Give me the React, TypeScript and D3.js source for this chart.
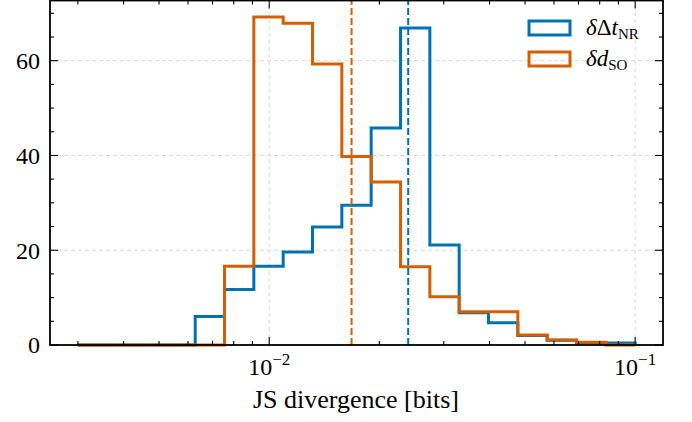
import React, { useEffect } from 'react';
import * as d3 from 'd3';

// log-spaced bin edges (0.003 .. 0.1, 19 bins)
const binEdges = [
  0.003, 0.003608, 0.00434, 0.005219, 0.006278, 0.007549, 0.009078, 0.010919,
  0.013133, 0.015793, 0.018995, 0.022851, 0.027479, 0.033045, 0.039747,
  0.047797, 0.057478, 0.069118, 0.083157, 0.1,
];

const countsNR = [0, 0, 0, 0, 6.0, 11.7, 16.6, 19.6, 24.9, 29.5, 45.8, 66.9, 21.1, 6.8, 4.7, 2.0, 1.0, 0.5, 0.4];
const countsSO = [0, 0, 0, 0, 0, 16.6, 69.2, 67.9, 59.3, 39.8, 34.4, 16.5, 10.2, 7.0, 7.0, 2.1, 1.05, 0.6, 0];

const meanNR = 0.02398;
const meanSO = 0.01679;

const yGridTicks = [20, 40, 60];
const yLabelTicks = [0, 20, 40, 60];
const xMajorTicks = [0.01, 0.1];
const xMajorLabels = ['−2', '−1'];

const BLUE = '#0072B2';
const ORANGE = '#D55E00';
const FONT = 'Liberation Serif';

const W = 692;
const H = 422;
const M = { left: 50, right: 29, top: 0.5, bottom: 77 };

export default function App() {
  useEffect(() => {
    document.body.style.margin = '0';
  }, []);

  const x = d3.scaleLog().domain([Math.pow(10, -2.599), Math.pow(10, -0.9239)]).range([M.left, W - M.right]);
  const y = d3.scaleLinear().domain([0, 72.7]).range([H - M.bottom, M.top]);

  const x0 = M.left;
  const x1 = W - M.right;
  const y0 = H - M.bottom;
  const y1 = M.top;

  const stepPath = (counts: number[]) => {
    const pts: [number, number][] = [[binEdges[0], 0]];
    counts.forEach((c, i) => {
      pts.push([binEdges[i], c]);
      pts.push([binEdges[i + 1], c]);
    });
    pts.push([binEdges[binEdges.length - 1], 0]);
    return d3.line<[number, number]>().x((d) => x(d[0])).y((d) => y(d[1]))(pts) || '';
  };

  const xTicks = x.ticks();
  const isMajor = (t: number) => Math.abs(Math.log10(t) - Math.round(Math.log10(t))) < 1e-6;
  const yTicks = d3.range(0, 73, 5);
  const txt = { fontFamily: FONT };

  return (
    <svg width={W} height={H} style={{ position: 'absolute', left: 0, top: 0, background: '#fff' }}>
      {/* grid */}
      <g stroke="#d9d9d9" strokeWidth={1} strokeDasharray="4,3">
        {yGridTicks.map((t) => (
          <line key={'gy' + t} x1={x0} x2={x1} y1={y(t)} y2={y(t)} />
        ))}
        {xMajorTicks.map((t) => (
          <line key={'gx' + t} x1={x(t)} x2={x(t)} y1={y0} y2={y1} />
        ))}
      </g>

      {/* histograms */}
      <path d={stepPath(countsNR)} fill="none" stroke={BLUE} strokeWidth={3} strokeLinejoin="miter" />
      <path d={stepPath(countsSO)} fill="none" stroke={ORANGE} strokeWidth={3} strokeLinejoin="miter" />

      {/* mean lines */}
      <line x1={x(meanSO)} x2={x(meanSO)} y1={y0} y2={y1} stroke={ORANGE} strokeWidth={2} strokeDasharray="7,3" />
      <line x1={x(meanNR)} x2={x(meanNR)} y1={y0} y2={y1} stroke={BLUE} strokeWidth={2} strokeDasharray="7,3" />

      {/* ticks */}
      <g stroke="#000" strokeWidth={1.1}>
        {xTicks.map((t) => {
          const len = isMajor(t) ? 8 : 4;
          return (
            <g key={'xt' + t}>
              <line x1={x(t)} x2={x(t)} y1={y0} y2={y0 - len} />
              <line x1={x(t)} x2={x(t)} y1={y1} y2={y1 + len} />
            </g>
          );
        })}
        {yTicks.map((t) => {
          const len = t % 20 === 0 ? 8 : 4;
          return (
            <g key={'yt' + t}>
              <line x1={x0} x2={x0 + len} y1={y(t)} y2={y(t)} />
              <line x1={x1} x2={x1 - len} y1={y(t)} y2={y(t)} />
            </g>
          );
        })}
      </g>

      {/* frame */}
      <rect x={x0} y={y1} width={x1 - x0} height={y0 - y1} fill="none" stroke="#000" strokeWidth={1.8} />

      {/* y tick labels */}
      {yLabelTicks.map((t) => (
        <text key={'yl' + t} style={txt} x={40} y={y(t)} dy="0.35em" textAnchor="end" fontSize={24} fill="#000">
          {t}
        </text>
      ))}

      {/* x tick labels */}
      {xMajorTicks.map((t, i) => (
        <text key={'xl' + t} style={txt} x={x(t)} y={375} textAnchor="middle" fontSize={24} fill="#000">
          10
          <tspan fontSize={17} dy={-10}>
            {xMajorLabels[i]}
          </tspan>
        </text>
      ))}

      {/* x axis label */}
      <text style={txt} x={356} y={408} textAnchor="middle" fontSize={26} fill="#000">
        JS divergence [bits]
      </text>

      {/* legend */}
      <g>
        <rect x={529} y={21} width={41} height={14} fill="none" stroke={BLUE} strokeWidth={3} />
        <text style={txt} x={586} y={35} fontSize={23} fill="#000">
          <tspan fontStyle="italic">δ</tspan>Δ<tspan fontStyle="italic">t</tspan>
          <tspan fontSize={15} dy={4}>NR</tspan>
        </text>
        <rect x={529} y={52} width={41} height={14} fill="none" stroke={ORANGE} strokeWidth={3} />
        <text style={txt} x={586} y={66} fontSize={23} fill="#000">
          <tspan fontStyle="italic">δd</tspan>
          <tspan fontSize={15} dy={4}>SO</tspan>
        </text>
      </g>
    </svg>
  );
}
